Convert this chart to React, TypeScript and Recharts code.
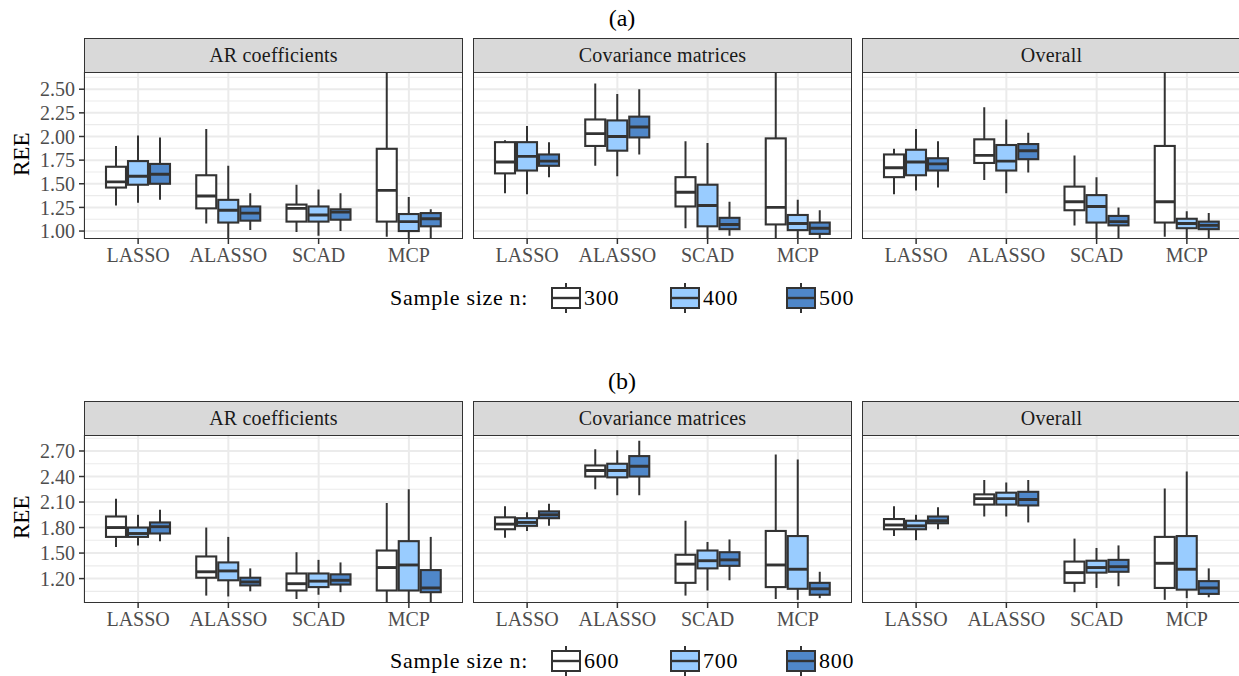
import React from "react";
import { Bar, CartesianGrid, ComposedChart, XAxis, YAxis } from "recharts";

// one box = [lower whisker, q1, median, q3, upper whisker]
type Box = [number, number, number, number, number];

const methods = ["LASSO", "ALASSO", "SCAD", "MCP"];
const panelTitles = ["AR coefficients", "Covariance matrices", "Overall"];
const sizesA = ["300", "400", "500"];
const sizesB = ["600", "700", "800"];
const fills = ["#ffffff", "#99ccff", "#4f87c9"];

const ticksA = [1.0, 1.25, 1.5, 1.75, 2.0, 2.25, 2.5];
const minorA = [1.125, 1.375, 1.625, 1.875, 2.125, 2.375, 2.625];
const ticksB = [1.2, 1.5, 1.8, 2.1, 2.4, 2.7];
const minorB = [1.05, 1.35, 1.65, 1.95, 2.25, 2.55, 2.85];

// (a) rows = methods, columns = sample sizes
const arA: Box[][] = [
  [[1.27, 1.46, 1.52, 1.68, 1.90], [1.30, 1.49, 1.58, 1.74, 2.01], [1.33, 1.50, 1.60, 1.71, 1.99]],
  [[1.08, 1.24, 1.37, 1.59, 2.08], [0.88, 1.09, 1.22, 1.33, 1.69], [1.01, 1.11, 1.19, 1.26, 1.40]],
  [[0.99, 1.10, 1.24, 1.28, 1.49], [0.95, 1.10, 1.17, 1.26, 1.44], [1.00, 1.12, 1.20, 1.23, 1.40]],
  [[0.94, 1.10, 1.43, 1.87, 3.00], [0.90, 1.00, 1.10, 1.18, 1.36], [0.92, 1.05, 1.13, 1.19, 1.23]],
];
const covA: Box[][] = [
  [[1.40, 1.61, 1.73, 1.94, 1.96], [1.39, 1.64, 1.79, 1.94, 2.11], [1.57, 1.69, 1.74, 1.81, 1.94]],
  [[1.69, 1.90, 2.03, 2.18, 2.56], [1.58, 1.85, 2.00, 2.17, 2.45], [1.81, 1.99, 2.10, 2.21, 2.50]],
  [[1.03, 1.26, 1.41, 1.57, 1.95], [0.88, 1.05, 1.27, 1.49, 1.93], [0.95, 1.02, 1.07, 1.14, 1.31]],
  [[0.85, 1.07, 1.25, 1.98, 3.20], [0.90, 1.01, 1.08, 1.17, 1.33], [0.92, 0.97, 1.03, 1.09, 1.22]],
];
const allA: Box[][] = [
  [[1.39, 1.57, 1.67, 1.81, 1.87], [1.43, 1.59, 1.73, 1.86, 2.08], [1.46, 1.64, 1.71, 1.77, 1.95]],
  [[1.54, 1.72, 1.80, 1.97, 2.31], [1.40, 1.64, 1.74, 1.91, 2.18], [1.62, 1.76, 1.85, 1.92, 2.04]],
  [[1.06, 1.22, 1.31, 1.47, 1.80], [0.90, 1.09, 1.26, 1.38, 1.57], [0.92, 1.06, 1.10, 1.16, 1.25]],
  [[0.94, 1.09, 1.31, 1.90, 3.10], [0.90, 1.03, 1.08, 1.13, 1.21], [0.92, 1.02, 1.06, 1.10, 1.19]],
];

// (b)
const arB: Box[][] = [
  [[1.57, 1.69, 1.80, 1.93, 2.14], [1.59, 1.69, 1.73, 1.80, 1.95], [1.64, 1.73, 1.81, 1.86, 2.01]],
  [[1.00, 1.21, 1.28, 1.46, 1.80], [0.99, 1.18, 1.29, 1.39, 1.69], [1.05, 1.12, 1.16, 1.21, 1.32]],
  [[0.96, 1.06, 1.14, 1.26, 1.51], [1.01, 1.10, 1.17, 1.26, 1.42], [1.04, 1.13, 1.18, 1.25, 1.39]],
  [[0.88, 1.06, 1.33, 1.53, 2.09], [0.88, 1.06, 1.36, 1.64, 2.25], [0.88, 1.04, 1.09, 1.30, 1.69]],
];
const covB: Box[][] = [
  [[1.68, 1.78, 1.84, 1.92, 2.05], [1.76, 1.82, 1.86, 1.91, 1.98], [1.82, 1.91, 1.95, 1.99, 2.08]],
  [[2.25, 2.40, 2.47, 2.53, 2.72], [2.18, 2.39, 2.47, 2.55, 2.71], [2.18, 2.40, 2.52, 2.64, 2.82]],
  [[1.00, 1.15, 1.37, 1.48, 1.88], [1.06, 1.32, 1.41, 1.53, 1.63], [1.18, 1.35, 1.42, 1.51, 1.66]],
  [[0.96, 1.10, 1.36, 1.76, 2.66], [0.95, 1.08, 1.31, 1.70, 2.60], [0.97, 1.01, 1.08, 1.15, 1.28]],
];
const allB: Box[][] = [
  [[1.70, 1.78, 1.83, 1.90, 2.05], [1.65, 1.78, 1.82, 1.88, 1.95], [1.78, 1.85, 1.88, 1.93, 2.04]],
  [[1.93, 2.07, 2.14, 2.19, 2.36], [1.93, 2.07, 2.14, 2.21, 2.33], [1.86, 2.06, 2.13, 2.22, 2.36]],
  [[1.04, 1.15, 1.27, 1.40, 1.67], [1.09, 1.27, 1.33, 1.41, 1.56], [1.11, 1.28, 1.34, 1.42, 1.59]],
  [[0.95, 1.09, 1.38, 1.69, 2.26], [0.97, 1.07, 1.31, 1.70, 2.46], [0.98, 1.02, 1.09, 1.17, 1.32]],
];

const FONT = "'Liberation Serif', 'Times New Roman', serif";
const PANEL_W = 379;
const AXIS_W = 84;
const panelLefts = [84, 473, 862];

function toRows(boxes: Box[][]) {
  return methods.map((method, i) => {
    const row: Record<string, any> = { method };
    boxes[i].forEach((b, j) => {
      row["s" + j] = b;
      row["r" + j] = [b[1], b[3]];
    });
    return row;
  });
}

// the bar spans q1..q3, whiskers and median are placed on the same scale
function BoxShape(props: any) {
  const { x, y, width, height, payload, fill, statsKey, background } = props;
  const [lo, q1, med, q3, hi] = payload[statsKey] as Box;
  const k = height / (q3 - q1);
  const py = (v: number) => y + (q3 - v) * k;
  const cx = x + width / 2;
  let top = py(hi);
  let bot = py(lo);
  if (background) {
    top = Math.max(top, background.y);
    bot = Math.min(bot, background.y + background.height);
  }
  return (
    <g>
      <line x1={cx} x2={cx} y1={top} y2={y} stroke="#333333" strokeWidth={2} />
      <line x1={cx} x2={cx} y1={y + height} y2={bot} stroke="#333333" strokeWidth={2} />
      <rect x={x} y={y} width={width} height={height} fill={fill} stroke="#333333" strokeWidth={2.1} />
      <line x1={x} x2={x + width} y1={py(med)} y2={py(med)} stroke="#333333" strokeWidth={2.9} />
    </g>
  );
}

type PanelProps = {
  boxes: Box[][];
  col: number;
  top: number;
  plotH: number;
  domain: [number, number];
  ticks: number[];
  minor: number[];
};

function Panel({ boxes, col, top, plotH, domain, ticks, minor }: PanelProps) {
  const withAxis = col === 0;
  const left = panelLefts[col];
  const chartLeft = withAxis ? 0 : left;
  const chartW = withAxis ? AXIS_W + PANEL_W : PANEL_W;
  const rows = toRows(boxes);

  return (
    <>
      <div style={{ ...styles.strip, left, top: top - 34 }}>{panelTitles[col]}</div>
      <div style={{ position: "absolute", left: chartLeft, top }}>
        <ComposedChart
          width={chartW}
          height={plotH + 40}
          data={rows}
          margin={{ top: 0, right: 0, bottom: 0, left: 0 }}
          barSize={20}
          barGap={2}
        >
          <CartesianGrid
            horizontalValues={minor}
            vertical={false}
            stroke="#ebebeb"
            strokeWidth={1.1}
          />
          <CartesianGrid
            horizontalValues={ticks}
            stroke="#ebebeb"
            strokeWidth={2}
          />
          <XAxis
            dataKey="method"
            padding={{ left: 9, right: 9 }}
            axisLine={false}
            tickLine={{ stroke: "#333333", strokeWidth: 1.5 }}
            tickSize={5}
            tickMargin={4}
            interval={0}
            height={40}
            tick={{ fill: "#4d4d4d", fontSize: 20, fontFamily: FONT }}
          />
          <YAxis
            domain={domain}
            ticks={ticks}
            interval={0}
            allowDataOverflow
            hide={!withAxis}
            width={AXIS_W}
            axisLine={false}
            tickLine={{ stroke: "#333333", strokeWidth: 1.5 }}
            tickSize={5}
            tickMargin={4}
            tickFormatter={(v: number) => v.toFixed(2)}
            tick={{ fill: "#4d4d4d", fontSize: 20, fontFamily: FONT }}
          />
          {fills.map((fill, j) => (
            <Bar
              key={j}
              dataKey={"r" + j}
              fill={fill}
              isAnimationActive={false}
              shape={(p: any) => <BoxShape {...p} statsKey={"s" + j} />}
            />
          ))}
        </ComposedChart>
      </div>
      <div
        style={{
          position: "absolute",
          left,
          top,
          width: PANEL_W,
          height: plotH,
          border: "1.5px solid #333333",
          boxSizing: "border-box",
          pointerEvents: "none",
        }}
      />
    </>
  );
}

function KeyGlyph({ fill }: { fill: string }) {
  return (
    <svg width={30} height={30} style={{ display: "block" }}>
      <line x1={15} x2={15} y1={0} y2={30} stroke="#333333" strokeWidth={2} />
      <rect x={1} y={5} width={28} height={20} fill={fill} stroke="#333333" strokeWidth={2} />
      <line x1={1} x2={29} y1={15} y2={15} stroke="#333333" strokeWidth={2.4} />
    </svg>
  );
}

function LegendRow({ center, labels }: { center: number; labels: string[] }) {
  const keyLefts = [551, 670, 786];
  return (
    <>
      <div style={{ ...styles.legendText, left: 390, top: center - 14 }}>Sample size n:</div>
      {labels.map((lab, j) => (
        <React.Fragment key={lab}>
          <div style={{ position: "absolute", left: keyLefts[j], top: center - 15 }}>
            <KeyGlyph fill={fills[j]} />
          </div>
          <div style={{ ...styles.legendText, left: keyLefts[j] + 33, top: center - 14 }}>{lab}</div>
        </React.Fragment>
      ))}
    </>
  );
}

function Figure({ offset, tag, panels, sizes, domain, ticks, minor, plotH }: any) {
  const top = 72 + offset;
  return (
    <>
      <div style={{ ...styles.tag, top: offset + 3 }}>{tag}</div>
      <div style={{ ...styles.yTitle, top: top + plotH / 2 - 14 }}>REE</div>
      {panels.map((boxes: Box[][], col: number) => (
        <Panel
          key={col}
          boxes={boxes}
          col={col}
          top={top}
          plotH={plotH}
          domain={domain}
          ticks={ticks}
          minor={minor}
        />
      ))}
      <LegendRow center={298 + offset} labels={sizes} />
    </>
  );
}

export default function App() {
  return (
    <div style={styles.page}>
      <Figure
        offset={0}
        tag="(a)"
        panels={[arA, covA, allA]}
        sizes={sizesA}
        domain={[0.916, 2.682]}
        ticks={ticksA}
        minor={minorA}
        plotH={167}
      />
      <Figure
        offset={363}
        tag="(b)"
        panels={[arB, covB, allB]}
        sizes={sizesB}
        domain={[0.913, 2.888]}
        ticks={ticksB}
        minor={minorB}
        plotH={168}
      />
    </div>
  );
}

const styles: Record<string, React.CSSProperties> = {
  page: {
    position: "absolute",
    left: 0,
    top: 0,
    width: 1239,
    height: 676,
    overflow: "hidden",
    background: "#ffffff",
    fontFamily: FONT,
  },
  strip: {
    position: "absolute",
    width: PANEL_W,
    height: 35,
    background: "#d9d9d9",
    border: "1.5px solid #333333",
    boxSizing: "border-box",
    textAlign: "center",
    fontSize: 20,
    lineHeight: "32px",
    letterSpacing: 0.2,
    color: "#1a1a1a",
  },
  tag: {
    position: "absolute",
    left: 0,
    width: 1244,
    textAlign: "center",
    fontSize: 24,
    lineHeight: "30px",
    color: "#000000",
  },
  yTitle: {
    position: "absolute",
    left: 2,
    width: 40,
    height: 28,
    lineHeight: "28px",
    textAlign: "center",
    fontSize: 23,
    color: "#000000",
    transform: "rotate(-90deg)",
  },
  legendText: {
    position: "absolute",
    fontSize: 22,
    lineHeight: "28px",
    letterSpacing: 0.7,
    color: "#000000",
    whiteSpace: "nowrap",
  },
};
